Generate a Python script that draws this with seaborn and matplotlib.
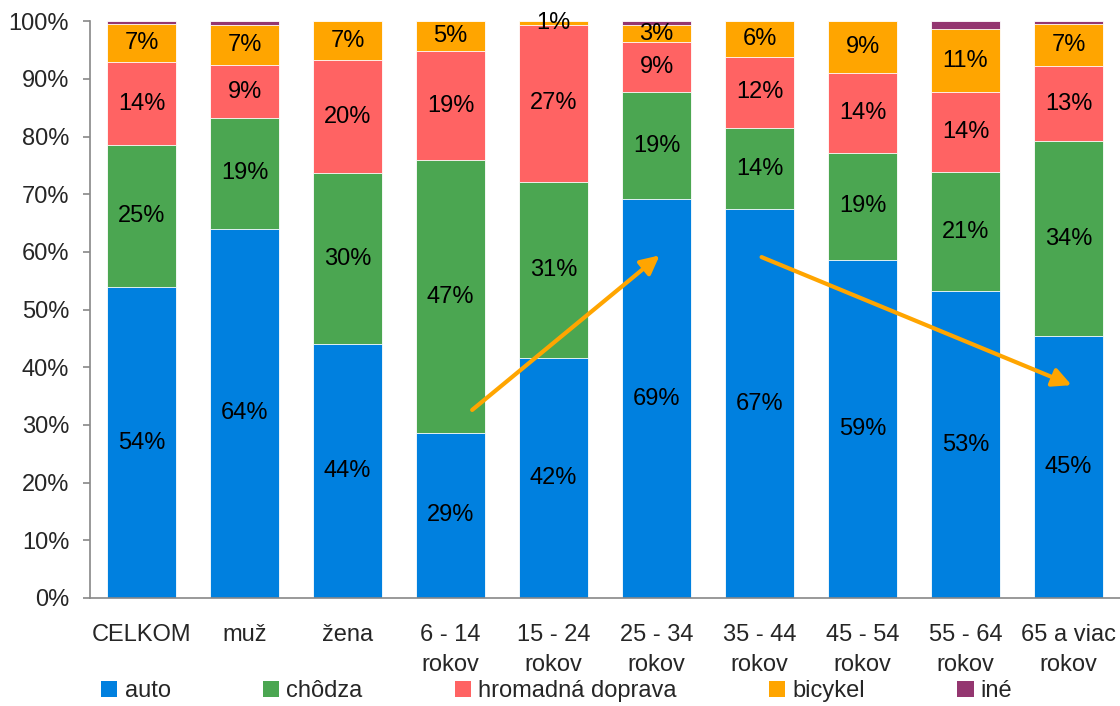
import matplotlib
matplotlib.use("Agg")
import matplotlib.pyplot as plt
import seaborn as sns
import pandas as pd
import numpy as np
from matplotlib.patches import Patch

sns.set_style("white")
plt.rcParams['font.family'] = ['Liberation Sans', 'DejaVu Sans']
plt.rcParams['font.size'] = 17

# ---------- data ----------
kategorie = ["CELKOM", "muž", "žena", "6 - 14\nrokov", "15 - 24\nrokov", "25 - 34\nrokov",
             "35 - 44\nrokov", "45 - 54\nrokov", "55 - 64\nrokov", "65 a viac\nrokov"]
auto = [53.9, 64.0, 44.0, 28.6, 41.6, 69.1, 67.4, 58.6, 53.2, 45.4]
chodza = [24.6, 19.2, 29.6, 47.3, 30.6, 18.6, 14.1, 18.6, 20.6, 33.8]
hromadna = [14.4, 9.2, 19.6, 18.9, 27.1, 8.7, 12.3, 13.8, 13.9, 13.0]
bicykel = [6.6, 6.9, 6.8, 5.2, 0.7, 2.9, 6.2, 9.0, 10.9, 7.3]
ine = [0.5, 0.7, 0.0, 0.0, 0.0, 0.7, 0.0, 0.0, 1.4, 0.5]

serie = ["auto", "chôdza", "hromadná doprava", "bicykel", "iné"]
farby = ["#0080DF", "#4BA651", "#FF6363", "#FFA500", "#943670"]
hodnoty = [auto, chodza, hromadna, bicykel, ine]

# ---------- plot ----------
fig = plt.figure(figsize=(11.2, 7.06), dpi=100)
ax = fig.add_axes([0.0804, 0.153, 0.9196, 0.817])

cum = np.cumsum(np.array(hodnoty), axis=0)
# draw from top of stack down so each lower segment overlays the previous
for i in range(len(serie) - 1, -1, -1):
    df = pd.DataFrame({"kat": kategorie, "val": cum[i]})
    sns.barplot(data=df, x="kat", y="val", color=farby[i], width=0.67,
                edgecolor="white", linewidth=0.6, saturation=1, ax=ax)

# value labels (iné not labelled)
for i in range(4):
    for j, v in enumerate(hodnoty[i]):
        stred = cum[i][j] - v / 2
        ax.text(j, stred, f"{int(v + 0.5)}%", ha="center", va="center",
                fontsize=17, color="black")

# trend arrows
arrow = dict(arrowstyle="-|>", color="#FFA500", lw=3, mutation_scale=28, shrinkA=0, shrinkB=0)
ax.annotate("", xy=(5.03, 59.4), xytext=(3.21, 32.6), arrowprops=arrow)
ax.annotate("", xy=(9.03, 36.9), xytext=(6.02, 59.1), arrowprops=arrow)

ax.set_ylim(0, 100)
ax.set_xlim(-0.5, 9.5)
ax.set_yticks(range(0, 101, 10))
ax.set_yticklabels([f"{t}%" for t in range(0, 101, 10)], fontsize=17)
ax.set_xticks(range(len(kategorie)))
ax.set_xticklabels(kategorie, fontsize=17, linespacing=1.45)
ax.set_xticks(np.arange(-0.5, 10, 1), minor=True)
ax.tick_params(axis="x", which="major", length=0, pad=19)
ax.tick_params(axis="x", which="minor", length=7, color="#888888", width=1.2, direction="out")
ax.tick_params(axis="y", length=5, color="#888888", width=1.2, direction="out", pad=10, left=True)
ax.set_xlabel("")
ax.set_ylabel("")
sns.despine(ax=ax, top=True, right=True)
for s in ["left", "bottom"]:
    ax.spines[s].set_color("#888888")
    ax.spines[s].set_linewidth(1.2)

handles = [Patch(facecolor=c, edgecolor="none") for c in farby]
fig.legend(handles, serie, loc="center", bbox_to_anchor=(0.497, 0.021), ncol=5,
           frameon=False, fontsize=17, handlelength=0.7, handleheight=0.7,
           handletextpad=0.3, columnspacing=3.9, borderaxespad=0)

fig.savefig("out.png", dpi=100)
